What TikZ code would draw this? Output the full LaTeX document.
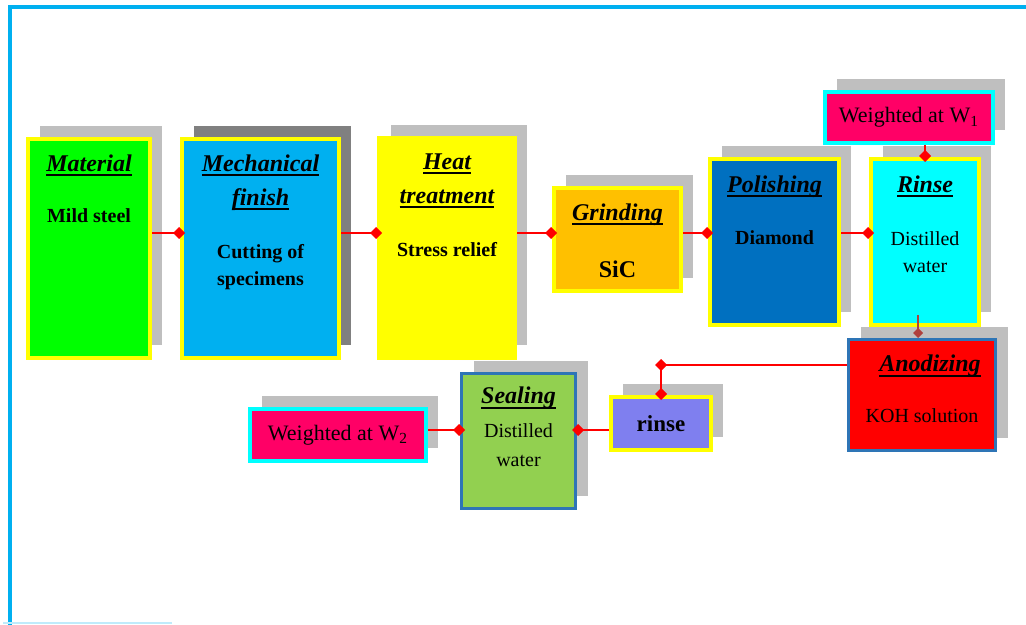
\documentclass[tikz,border=0pt]{standalone}
\usepackage{fontspec}
\setmainfont{Liberation Serif}
\usetikzlibrary{positioning,arrows.meta,shadows}
\definecolor{framecol}{HTML}{00B0F0}
\definecolor{matgreen}{HTML}{00FF00}
\definecolor{mechblue}{HTML}{00B0F0}
\definecolor{pureyellow}{HTML}{FFFF00}
\definecolor{purecyan}{HTML}{00FFFF}
\definecolor{purered}{HTML}{FF0000}
\definecolor{grindorange}{HTML}{FFC000}
\definecolor{polblue}{HTML}{0070C0}
\definecolor{weighpink}{HTML}{FF0066}
\definecolor{anodblue}{HTML}{2E75B6}
\definecolor{rinseviolet}{HTML}{7F7FEF}
\definecolor{sealgreen}{HTML}{92D050}
\definecolor{shadowgray}{HTML}{BFBFBF}
\definecolor{shadowdark}{HTML}{808080}
\definecolor{darkred}{HTML}{B0403D}
\newcommand{\headul}[1]{\setbox0\hbox{#1}\leavevmode\rlap{\rule[-2.6pt]{\wd0}{1.1pt}}\box0}

\begin{document}
\begin{tikzpicture}[
  x=0.5pt, y=-0.5pt,
  blk/.style={line width=2pt, inner sep=0pt, drop shadow={shadow xshift=6pt, shadow yshift=6.5pt, fill=#1, opacity=1}},
  blk/.default=shadowgray,
  thinblk/.style={blk, line width=1.5pt},
  hd/.style={anchor=north, inner sep=0pt, align=center, font=\fontsize{12}{17}\selectfont\bfseries\itshape},
  txt/.style={anchor=north, inner sep=0pt, align=center, font=\fontsize{10}{13.5}\selectfont\bfseries},
  plain/.style={txt, font=\fontsize{10}{13.5}\selectfont},
  link/.style={draw=purered, line width=1.2pt, -{Diamond[length=6pt,width=6pt]}, shorten >=-2.5pt},
  darklink/.style={draw=darkred, line width=1.2pt, -{Diamond[length=5pt,width=5pt]}}]
  \useasboundingbox (0,0) rectangle (1026,625);
  % frame
  \draw[framecol, line width=2pt] (10,625) -- (10,7.5) -- (1026,7.5);
  \draw[framecol!25, line width=1pt] (3,623) -- (172,623);
  % upper row
  \node[blk, draw=pureyellow, fill=matgreen, minimum width=61pt, minimum height=109.5pt] (mat) at (89,248.5) {};
  \node[hd] (matH) at ([yshift=-8.5pt]mat.north) {\headul{Material}};
  \node[txt] (matB) at ([yshift=-35.5pt]mat.north) {Mild steel};
  \node[blk=shadowdark, draw=pureyellow, fill=mechblue, minimum width=78.5pt, minimum height=109.5pt] (mech) at (260.5,248.5) {};
  \node[hd] (mechH) at ([yshift=-8.5pt]mech.north) {\headul{Mechanical}\\\headul{finish}};
  \node[txt] (mechB) at ([yshift=-53.5pt]mech.north) {Cutting of\\specimens};
  \node[blk, draw=pureyellow, fill=pureyellow, minimum width=68pt, minimum height=110pt] (heat) at (447,248) {};
  \node[hd] (heatH) at ([yshift=-8.5pt]heat.north) {\headul{Heat}\\\headul{treatment}};
  \node[txt] (heatB) at ([yshift=-53pt]heat.north) {Stress relief};
  \node[blk, draw=pureyellow, fill=grindorange, minimum width=63.5pt, minimum height=51.5pt] (grind) at (617.5,239.5) {};
  \node[hd] (grindH) at ([yshift=-8.5pt]grind.north) {\headul{Grinding}};
  \node[txt, font=\fontsize{12}{14}\selectfont\bfseries] (grindB) at ([yshift=-37pt]grind.north) {SiC};
  \node[blk, draw=pureyellow, fill=polblue, minimum width=64.5pt, minimum height=83pt] (pol) at (774.5,242) {};
  \node[hd] (polH) at ([yshift=-9pt]pol.north) {\headul{Polishing}};
  \node[txt] (polB) at ([yshift=-36.5pt]pol.north) {Diamond};
  \node[blk, draw=pureyellow, fill=purecyan, minimum width=54pt, minimum height=83pt] (rinse) at (925,242) {};
  \node[hd] (rinseH) at ([yshift=-9pt]rinse.north) {\headul{Rinse}};
  \node[plain] (rinseB) at ([yshift=-37pt]rinse.north) {Distilled\\water};
  \node[blk, draw=purecyan, fill=weighpink, minimum width=84pt, minimum height=25.5pt, font=\fontsize{11}{13}\selectfont] (wone) at (909,117.5) {Weighted at W\textsubscript{1}};
  % lower row
  \node[thinblk, draw=anodblue, fill=purered, minimum width=73.5pt, minimum height=55.5pt] (anod) at (922,395) {};
  \node[hd] (anodH) at ([xshift=4pt,yshift=-8.25pt]anod.north) {\headul{Anodizing}};
  \node[plain] (anodB) at ([yshift=-35pt]anod.north) {KOH solution};
  \node[blk, draw=pureyellow, fill=rinseviolet, minimum width=50pt, minimum height=26.5pt, font=\fontsize{11.5}{13}\selectfont\bfseries] (rinsetwo) at (661,423.5) {rinse};
  \node[thinblk, draw=anodblue, fill=sealgreen, minimum width=57pt, minimum height=67.5pt] (seal) at (518.5,441) {};
  \node[hd] (sealH) at ([yshift=-7.25pt]seal.north) {\headul{Sealing}};
  \node[plain, font=\fontsize{10}{14.5}\selectfont] (sealB) at ([yshift=-25.75pt]seal.north) {Distilled\\water};
  \node[blk, draw=purecyan, fill=weighpink, minimum width=88pt, minimum height=26pt, font=\fontsize{11}{13}\selectfont] (wtwo) at (338,435) {Weighted at W\textsubscript{2}};
  % connectors
  \coordinate (rowone) at (0,233);
  \coordinate (rowtwo) at (0,430);
  \coordinate (rowthree) at (0,365);
  \draw[link] (mat.east |- rowone) -- (mech.west |- rowone);
  \draw[link] (mech.east |- rowone) -- (heat.west |- rowone);
  \draw[link] (heat.east |- rowone) -- (grind.west |- rowone);
  \draw[link] (grind.east |- rowone) -- (pol.west |- rowone);
  \draw[link] (pol.east |- rowone) -- (rinse.west |- rowone);
  \draw[link] (rinse.north |- wone.south) -- (rinse.north);
  \draw[darklink] ([xshift=-3.5pt,yshift=6pt]rinse.south) -- ([xshift=-3.5pt]rinse.south |- anod.north);
  \coordinate (bend) at (rinsetwo.north |- rowthree);
  \draw[link, shorten >=-3pt] (anod.west |- rowthree) -- (bend);
  \draw[link] (bend) -- (rinsetwo.north);
  \draw[link] (rinsetwo.west |- rowtwo) -- (seal.east |- rowtwo);
  \draw[link] (wtwo.east |- rowtwo) -- (seal.west |- rowtwo);
\end{tikzpicture}
\end{document}
